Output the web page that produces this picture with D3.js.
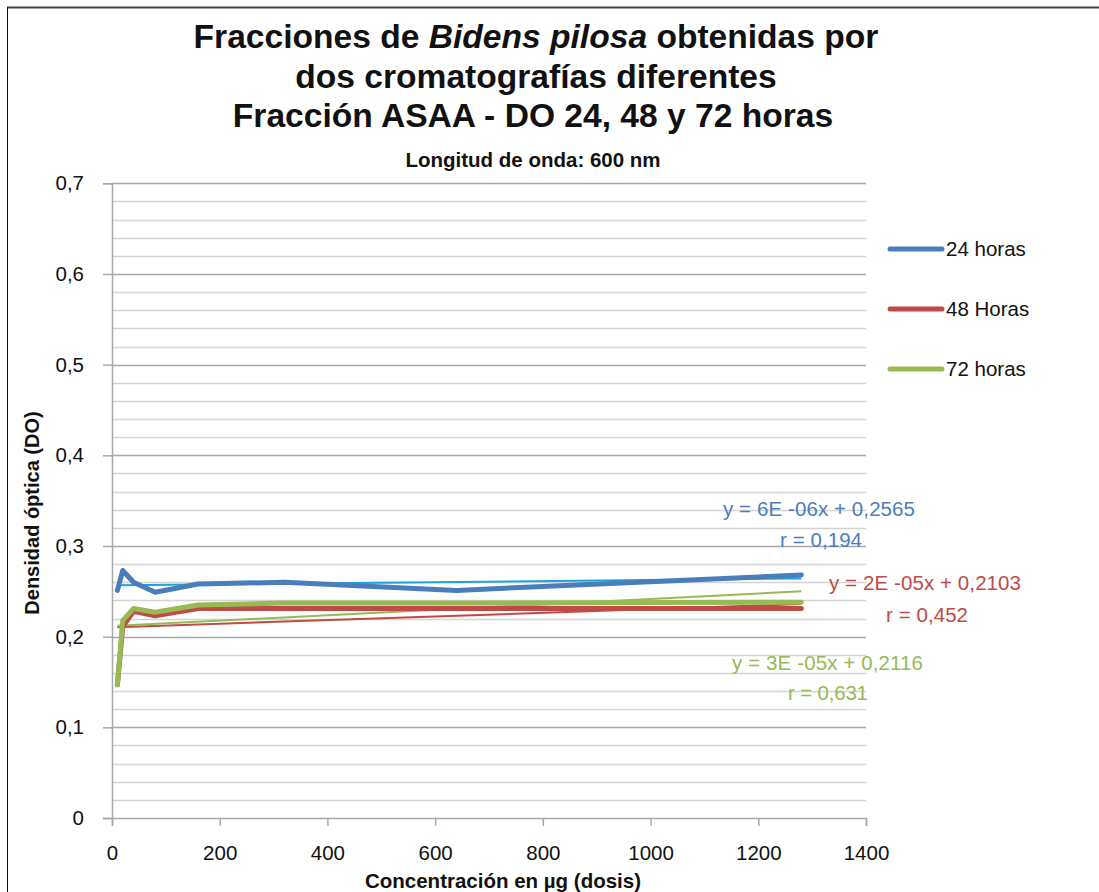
<!DOCTYPE html>
<html>
<head>
<meta charset="utf-8">
<script src="https://cdn.jsdelivr.net/npm/d3@7"></script>
<style>
  body { margin: 0; background: #fff; }
  svg { display: block; font-family: "Liberation Sans", Arial, Helvetica, sans-serif; }
</style>
</head>
<body>
<svg id="chart" width="1099" height="892"></svg>
<script>
// ---- data ----
const doses = [10, 20, 40, 80, 160, 320, 640, 1280];
const seriesNames = ["24 horas", "48 Horas", "72 horas"];
const do24 = [0.251, 0.273, 0.260, 0.249, 0.258, 0.260, 0.251, 0.268];
const do48 = [0.147, 0.211, 0.228, 0.223, 0.231, 0.231, 0.231, 0.231];
const do72 = [0.147, 0.218, 0.231, 0.227, 0.235, 0.237, 0.237, 0.238];
const trendSlopes = [6e-6, 2e-5, 3e-5];
const trendIntercepts = [0.2565, 0.2103, 0.2116];
const trendEquations = ["y = 6E -06x + 0,2565", "y = 2E -05x + 0,2103", "y = 3E -05x + 0,2116"];
const trendR = ["r = 0,194", "r = 0,452", "r = 0,631"];
const xTicks = [0, 200, 400, 600, 800, 1000, 1200, 1400];
const yTicks = [0, 0.1, 0.2, 0.3, 0.4, 0.5, 0.6, 0.7];

const colors = ["#4A7EBB", "#BE4B48", "#98B954"];
const trendColors = ["#1FA3DC", "#BE4B48", "#98B954"];
const FONT = "'Liberation Sans', Arial, Helvetica, sans-serif";

const svg = d3.select("#chart");
const x = d3.scaleLinear().domain([0, 1400]).range([112, 866]);
const y = d3.scaleLinear().domain([0, 0.7]).range([818, 183.3]);

// frame
svg.append("line").attr("x1", 7).attr("x2", 1099).attr("y1", 7.5).attr("y2", 7.5)
  .attr("stroke", "#444").attr("stroke-width", 2);
svg.append("line").attr("x1", 7.5).attr("x2", 7.5).attr("y1", 7).attr("y2", 892)
  .attr("stroke", "#111").attr("stroke-width", 1);

// gridlines
const minor = d3.range(0, 36).map(i => i * 0.02);
svg.append("g").selectAll("line").data(minor.filter(v => Math.round(v * 100) % 10 !== 0))
  .join("line")
  .attr("x1", x(0)).attr("x2", x(1400))
  .attr("y1", d => Math.round(y(d)) + 0.5).attr("y2", d => Math.round(y(d)) + 0.5)
  .attr("stroke", "#d4d4d4").attr("stroke-width", 1.5);
svg.append("g").selectAll("line").data(yTicks.slice(1))
  .join("line")
  .attr("x1", x(0)).attr("x2", x(1400))
  .attr("y1", d => Math.round(y(d)) + 0.5).attr("y2", d => Math.round(y(d)) + 0.5)
  .attr("stroke", "#a9a9a9").attr("stroke-width", 1.5);

// axes
const yAxis = d3.axisLeft(y).tickValues(yTicks).tickSize(9).tickPadding(19)
  .tickFormat(d => d === 0 ? "0" : d3.format(".1f")(d).replace(".", ","));
const gy = svg.append("g").attr("transform", `translate(${x(0)},0)`).call(yAxis);
gy.select(".domain").attr("stroke", "#a9a9a9").attr("stroke-width", 1.5);
gy.selectAll(".tick line").attr("stroke", "#a9a9a9").attr("stroke-width", 1.5);
gy.selectAll(".tick text").attr("font-size", 20.5).attr("fill", "#111")
  .attr("font-family", FONT);

const xAxis = d3.axisBottom(x).tickValues(xTicks).tickSize(8).tickPadding(19)
  .tickFormat(d3.format("d"));
const gx = svg.append("g").attr("transform", `translate(0,${y(0)})`).call(xAxis);
gx.select(".domain").attr("stroke", "#a9a9a9").attr("stroke-width", 1.5);
gx.selectAll(".tick line").attr("stroke", "#a9a9a9").attr("stroke-width", 1.5);
gx.selectAll(".tick text").attr("font-size", 20.5).attr("fill", "#111")
  .attr("font-family", FONT);

// trend lines
trendSlopes.forEach((m, i) => {
  const b = trendIntercepts[i];
  const x0 = doses[0], x1 = doses[doses.length - 1];
  svg.append("line")
    .attr("x1", x(x0)).attr("y1", y(m * x0 + b))
    .attr("x2", x(x1)).attr("y2", y(m * x1 + b))
    .attr("stroke", trendColors[i]).attr("stroke-width", 2);
});

// data lines
const line = d3.line().x((d, i) => x(doses[i])).y(d => y(d));
[do48, do72, do24].forEach((s, k) => {
  const idx = [1, 2, 0][k];
  svg.append("path").datum(s).attr("d", line)
    .attr("fill", "none").attr("stroke", colors[idx]).attr("stroke-width", 5)
    .attr("stroke-linejoin", "round").attr("stroke-linecap", "round");
});

// trend labels
const labelPos = [
  { ex: 723, ey: 516, ew: 192, rx: 780, ry: 547, rw: 82 },
  { ex: 829, ey: 590, ew: 192, rx: 886, ry: 622, rw: 82 },
  { ex: 732, ey: 670, ew: 191, rx: 788, ry: 700, rw: 80 }
];
labelPos.forEach((p, i) => {
  svg.append("text").attr("x", p.ex).attr("y", p.ey).attr("font-size", 20.5)
    .attr("textLength", p.ew).attr("lengthAdjust", "spacing")
    .attr("fill", colors[i]).text(trendEquations[i]);
  svg.append("text").attr("x", p.rx).attr("y", p.ry).attr("font-size", 20.5)
    .attr("textLength", p.rw).attr("lengthAdjust", "spacing")
    .attr("fill", colors[i]).text(trendR[i]);
});

// legend
const legY = [249, 309, 369];
seriesNames.forEach((n, i) => {
  svg.append("line").attr("x1", 890).attr("x2", 942).attr("y1", legY[i]).attr("y2", legY[i])
    .attr("stroke", colors[i]).attr("stroke-width", 5).attr("stroke-linecap", "round");
  svg.append("text").attr("x", 946).attr("y", legY[i] + 7).attr("font-size", 20.5)
    .attr("fill", "#111").text(n);
});

// titles
const t1 = svg.append("text").attr("x", 536).attr("y", 48).attr("text-anchor", "middle")
  .attr("font-size", 33.6).attr("font-weight", "bold").attr("fill", "#111");
t1.append("tspan").text("Fracciones de ");
t1.append("tspan").attr("font-style", "italic").text("Bidens pilosa");
t1.append("tspan").text(" obtenidas por");
svg.append("text").attr("x", 536).attr("y", 88).attr("text-anchor", "middle")
  .attr("font-size", 33.6).attr("font-weight", "bold").attr("fill", "#111")
  .text("dos cromatografías diferentes");
svg.append("text").attr("x", 533).attr("y", 127).attr("text-anchor", "middle")
  .attr("font-size", 33.6).attr("font-weight", "bold").attr("fill", "#111")
  .text("Fracción ASAA - DO 24, 48 y 72 horas");
svg.append("text").attr("x", 533).attr("y", 167).attr("text-anchor", "middle")
  .attr("font-size", 20.5).attr("font-weight", "bold").attr("fill", "#111")
  .text("Longitud de onda: 600 nm");

// axis titles
svg.append("text").attr("x", 503).attr("y", 888).attr("text-anchor", "middle")
  .attr("font-size", 20.5).attr("font-weight", "bold").attr("fill", "#111")
  .text("Concentración en µg (dosis)");
svg.append("text").attr("transform", "translate(39,513) rotate(-90)")
  .attr("text-anchor", "middle")
  .attr("font-size", 20).attr("font-weight", "bold").attr("fill", "#111")
  .text("Densidad óptica (DO)");
</script>
</body>
</html>
